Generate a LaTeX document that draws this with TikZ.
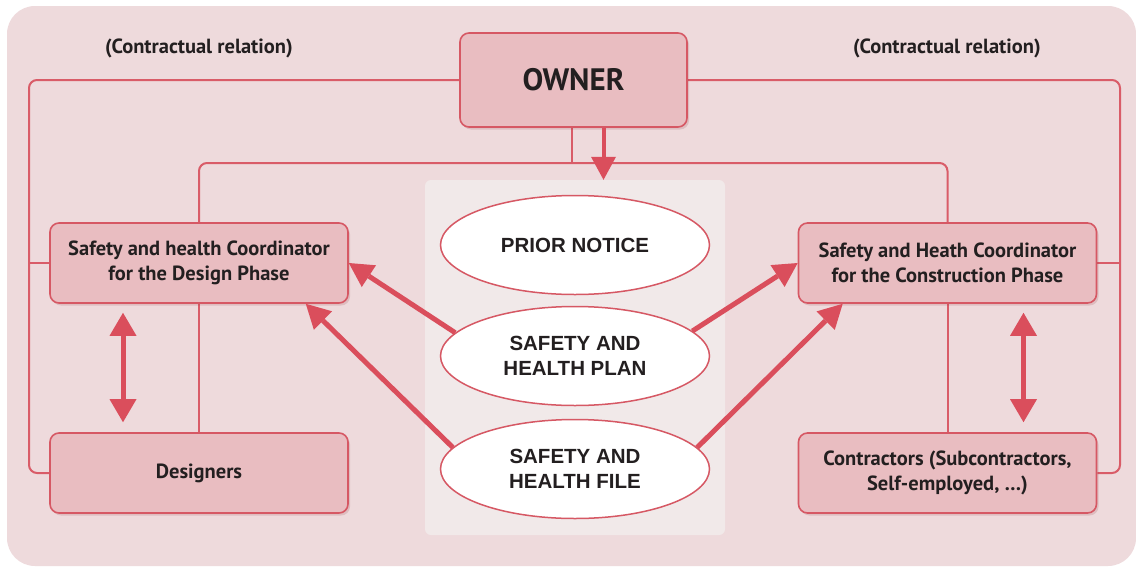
\documentclass[tikz,border=0pt]{standalone}
\usepackage{fontspec}
\setmainfont{Liberation Sans}
\newfontfamily\boxfont{PT Sans}
\usetikzlibrary{arrows.meta,shapes.geometric,shadows}
\definecolor{bgc}{RGB}{238,218,220}
\definecolor{panelc}{RGB}{241,233,233}
\definecolor{boxfill}{RGB}{233,189,193}
\definecolor{boxborder}{RGB}{214,88,100}
\definecolor{relc}{RGB}{217,92,104}
\definecolor{arrc}{RGB}{218,78,92}
\definecolor{txt}{RGB}{35,31,32}
\pgfdeclarelayer{back}
\pgfdeclarelayer{lines}
\pgfsetlayers{back,lines,main}
\tikzset{
  rel/.style={draw=relc, line width=2pt},
  box/.style={draw=boxborder, line width=1.6pt, fill=boxfill, rounded corners=9pt,
    minimum width=298pt, minimum height=80pt, align=center, inner sep=0pt, text=txt,
    font=\boxfont\bfseries\fontsize{20.5}{25}\selectfont,
    drop shadow={shadow xshift=2pt, shadow yshift=-2.5pt, fill=boxborder!70!black, opacity=0.18}},
  docell/.style={ellipse, draw=boxborder, line width=1.5pt, fill=white,
    minimum width=269pt, minimum height=99pt, inner sep=0pt, align=center, text=txt,
    font=\bfseries\fontsize{20.5}{25}\selectfont},
  lab/.style={text=txt, font=\boxfont\bfseries\fontsize{20.5}{24}\selectfont, inner sep=0pt},
  bigarrow/.style={draw=arrc, line width=5pt, -{Triangle[width=26pt,length=24pt,line width=0pt]}},
  dblarrow/.style={draw=arrc, line width=5pt, {Triangle[width=27pt,length=23pt,line width=0pt]}-{Triangle[width=27pt,length=23pt,line width=0pt]}}
}
\begin{document}
\begin{tikzpicture}[x=1pt,y=-1pt]
\useasboundingbox (0,0) rectangle (1136,568);

\node[box, minimum width=227pt, minimum height=94pt, font=\boxfont\bfseries\fontsize{31}{34}\selectfont] (owner) at (573.5,80) {OWNER};
\node[box] (dcoord) at (199,263) {Safety and health Coordinator\\for the Design Phase};
\node[box] (designers) at (199,473) {Designers};
\node[box] (ccoord) at (947.5,263) {Safety and Heath Coordinator\\for the Construction Phase};
\node[box] (contr) at (947.5,473) {Contractors (Subcontractors,\\Self-employed, \dots)};

\node[docell] (notice) at (575,245) {PRIOR NOTICE};
\node[docell] (plan) at (575,356) {SAFETY AND\\HEALTH PLAN};
\node[docell] (file) at (575,469) {SAFETY AND\\HEALTH FILE};

\node[lab] (lab1) at (199,48) {(Contractual relation)};
\node[lab] (lab2) at (947,48) {(Contractual relation)};

\coordinate (lbend) at (29,473);
\coordinate (rbend) at (1120,473);
\coordinate (bus) at (572,163);

\begin{pgfonlayer}{back}
\fill[white] (0,0) rectangle (1136,568);
\fill[bgc, rounded corners=28pt] (7,6) rectangle (1136,566);
\node[fill=panelc, rounded corners=6pt, minimum width=300pt, minimum height=355pt, inner sep=0pt] (panel) at (575,357.5) {};
\end{pgfonlayer}

\begin{pgfonlayer}{lines}
\draw[rel, rounded corners=8pt] (owner) -| (lbend) -- (designers);
\draw[rel, rounded corners=8pt] (owner) -| (rbend) -- (contr);
\draw[rel] (dcoord) -- (dcoord -| lbend);
\draw[rel] (ccoord) -- (ccoord -| rbend);
\draw[rel, rounded corners=8pt] (dcoord) |- (bus) -| (ccoord);
\draw[rel] (bus) -- (owner.center -| bus);
\draw[rel] (dcoord) -- (designers);
\draw[rel] (ccoord) -- (contr);
\end{pgfonlayer}

\draw[bigarrow, line width=4pt, -{Triangle[width=25pt,length=23pt,line width=0pt]}] ([xshift=30pt]owner.south) -- ([xshift=30pt]owner.south |- panel.north);

\draw[bigarrow] (plan.169) -- (dcoord.east);
\draw[bigarrow] (file.170) -- ([xshift=-43pt]dcoord.south east);
\draw[bigarrow] (plan.12) -- (ccoord.west);
\draw[bigarrow] (file.10) -- ([xshift=45pt]ccoord.south west);

\draw[dblarrow, shorten <=9pt, shorten >=10pt] ([xshift=-76pt]dcoord.south) -- ([xshift=-76pt]designers.north);
\draw[dblarrow, shorten <=9pt, shorten >=10pt] ([xshift=76pt]ccoord.south) -- ([xshift=76pt]contr.north);
\end{tikzpicture}
\end{document}
